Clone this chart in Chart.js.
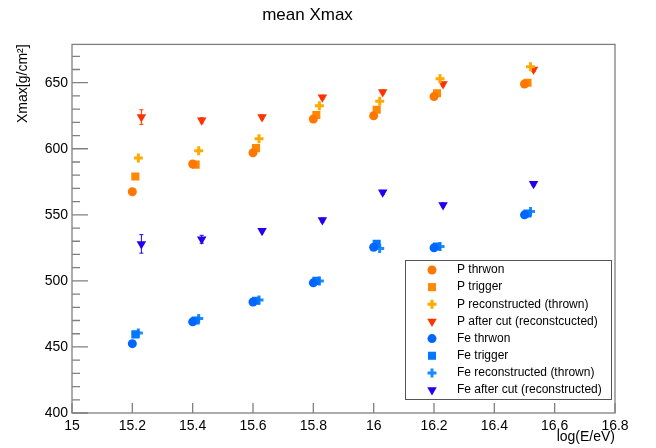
<!DOCTYPE html>
<html>
<head>
<meta charset="utf-8">
<script src="https://cdn.jsdelivr.net/npm/chart.js@4/dist/chart.umd.min.js"></script>
<style>
  html, body { margin: 0; background: #fff; }
  #wrap { width: 656px; height: 448px; }
</style>
</head>
<body>
<div id="wrap"><canvas id="xmaxChart"></canvas></div>
<script>
// energy bins (log E/eV), each series is drawn slightly shifted to the right
const logE = [15.2, 15.4, 15.6, 15.8, 16.0, 16.2, 16.5];
const shift = [0, 0.01, 0.02, 0.03];

// mean Xmax [g/cm2]
const pThrown  = [567.5, 588.5, 597, 622.5, 625, 639.5, 649];
const pTrigger = [579, 588, 600.5, 625.5, 629.5, 642, 650];
const pReco    = [593, 598.5, 607.5, 632.5, 636, 653, 662];
const pCut     = [624, 621.5, 624, 639, 643, 649, 660];
const pCutErr  = [5.5, 2, 1.5, 1.5, 1.5, 1.5, 1.5];

const feThrown  = [452.5, 469, 484, 498.5, 525.5, 525, 550];
const feTrigger = [459.5, 470, 485, 500, 528, 526, 551];
const feReco    = [460.5, 471.5, 485.5, 500, 524.5, 526, 552.5];
const feCut     = [528, 531.5, 538, 546, 567, 557.5, 573.5];
const feCutErr  = [7, 3, 1.5, 1.5, 1.5, 1.5, 1.5];

const yTicks = [400, 450, 500, 550, 600, 650];
const xTicks = [15, 15.2, 15.4, 15.6, 15.8, 16, 16.2, 16.4, 16.6, 16.8];

const FONT = "'Liberation Sans', Arial, Helvetica, sans-serif";

function pts(vals, k) {
    return vals.map((v, i) => ({ x: logE[i] + shift[k], y: v }));
}

function series(label, vals, k, color, style, extra) {
    return Object.assign({
        label: label,
        data: pts(vals, k),
        showLine: false,
        pointStyle: style,
        backgroundColor: color,
        borderColor: color,
        pointRadius: 4.5,
        pointHoverRadius: 4.5,
        pointBorderWidth: 0,
        pointRotation: 0
    }, extra || {});
}

const datasets = [
    series('P thrwon', pThrown, 0, '#ff7700', 'circle'),
    series('P trigger', pTrigger, 1, '#ff8800', 'rect', { pointRadius: 5.7 }),
    series('P reconstructed (thrown)', pReco, 2, '#ffaa00', 'cross', { pointBorderWidth: 3, pointRadius: 4.5 }),
    series('P after cut (reconstcucted)', pCut, 3, '#ff3300', 'triangle', { pointRotation: 180, pointRadius: 5.5, errors: pCutErr }),
    series('Fe thrwon', feThrown, 0, '#0066ff', 'circle'),
    series('Fe trigger', feTrigger, 1, '#0077ff', 'rect', { pointRadius: 5.7 }),
    series('Fe reconstructed (thrown)', feReco, 2, '#1a8cff', 'cross', { pointBorderWidth: 3, pointRadius: 4.5 }),
    series('Fe after cut (reconstructed)', feCut, 3, '#2200ee', 'triangle', { pointRotation: 180, pointRadius: 5.5, errors: feCutErr })
];

// ROOT-like frame with inward ticks
const framePlugin = {
    id: 'frame',
    afterDraw(chart) {
        const ctx = chart.ctx;
        const a = chart.chartArea;
        const xs = chart.scales.x, ys = chart.scales.y;
        ctx.save();
        ctx.strokeStyle = '#808080';
        ctx.lineWidth = 1.3;
        ctx.strokeRect(a.left, a.top, a.right - a.left, a.bottom - a.top);
        ctx.beginPath();
        for (let v = 400; v <= ys.max; v += 10) {
            const y = ys.getPixelForValue(v);
            const len = (v % 50 === 0) ? 16 : 8;
            ctx.moveTo(a.left, y);
            ctx.lineTo(a.left + len, y);
        }
        xTicks.forEach(v => {
            const x = xs.getPixelForValue(v);
            ctx.moveTo(x, a.bottom);
            ctx.lineTo(x, a.bottom - 10);
        });
        ctx.stroke();
        ctx.restore();
    }
};

// vertical error bars for the datasets that carry them
const errorPlugin = {
    id: 'errbars',
    beforeDatasetsDraw(chart) {
        const ctx = chart.ctx;
        const ys = chart.scales.y;
        chart.data.datasets.forEach((ds, di) => {
            if (!ds.errors) return;
            const meta = chart.getDatasetMeta(di);
            ctx.save();
            ctx.strokeStyle = ds.borderColor;
            ctx.lineWidth = 1;
            meta.data.forEach((el, i) => {
                const v = ds.data[i].y, e = ds.errors[i];
                const y1 = ys.getPixelForValue(v - e), y2 = ys.getPixelForValue(v + e);
                ctx.beginPath();
                ctx.moveTo(el.x, y1); ctx.lineTo(el.x, y2);
                ctx.moveTo(el.x - 2, y1); ctx.lineTo(el.x + 2, y1);
                ctx.moveTo(el.x - 2, y2); ctx.lineTo(el.x + 2, y2);
                ctx.stroke();
            });
            ctx.restore();
        });
    }
};

// legend box inside the plot, lower right
const boxLegend = {
    id: 'boxLegend',
    afterDraw(chart) {
        const ctx = chart.ctx;
        const left = 405, top = 260, w = 206, h = 139;
        ctx.save();
        ctx.fillStyle = '#fff';
        ctx.fillRect(left, top, w, h);
        ctx.strokeStyle = '#555';
        ctx.lineWidth = 1;
        ctx.strokeRect(left + 0.5, top + 0.5, w, h);
        ctx.font = '12px ' + FONT;
        ctx.textBaseline = 'middle';
        ctx.textAlign = 'left';
        chart.data.datasets.forEach((ds, i) => {
            const y = top + 10 + i * 17.15;
            ctx.fillStyle = ds.backgroundColor;
            ctx.strokeStyle = ds.borderColor;
            ctx.lineWidth = ds.pointBorderWidth;
            Chart.helpers.drawPoint(ctx, {
                pointStyle: ds.pointStyle,
                rotation: ds.pointRotation,
                radius: ds.pointRadius,
                borderWidth: ds.pointBorderWidth
            }, 432, y);
            ctx.fillStyle = '#000';
            ctx.fillText(ds.label, 457, y);
        });
        ctx.restore();
    }
};

new Chart(document.getElementById('xmaxChart'), {
    type: 'scatter',
    data: { datasets: datasets },
    options: {
        responsive: true,
        maintainAspectRatio: false,
        animation: false,
        layout: { padding: { left: 0, right: 41, top: 0, bottom: 0 } },
        plugins: {
            legend: { display: false },
            tooltip: { enabled: false },
            title: {
                display: true,
                text: 'mean Xmax',
                color: '#000',
                font: { family: FONT, size: 17, weight: 'normal' },
                padding: { top: 5, bottom: 19 }
            }
        },
        scales: {
            x: {
                type: 'linear',
                min: 15,
                max: 16.8,
                afterFit(s) { s.height = 35; },
                afterBuildTicks(s) { s.ticks = xTicks.map(v => ({ value: v })); },
                grid: { display: false, drawTicks: false },
                border: { display: false },
                ticks: {
                    color: '#000',
                    padding: 5,
                    maxRotation: 0,
                    font: { family: FONT, size: 14 },
                    callback: v => String(v)
                },
                title: {
                    display: true,
                    text: 'log(E/eV)',
                    align: 'end',
                    color: '#000',
                    font: { family: FONT, size: 14 },
                    padding: { top: 0, bottom: 2 }
                }
            },
            y: {
                min: 400,
                max: 679,
                afterFit(s) { s.width = 72; },
                afterBuildTicks(s) { s.ticks = yTicks.map(v => ({ value: v })); },
                grid: { display: false, drawTicks: false },
                border: { display: false },
                ticks: {
                    color: '#000',
                    padding: 4,
                    font: { family: FONT, size: 14 }
                },
                title: {
                    display: true,
                    text: 'Xmax[g/cm²]',
                    align: 'end',
                    color: '#000',
                    font: { family: FONT, size: 14 },
                    padding: { top: 15, bottom: 0 }
                }
            }
        }
    },
    plugins: [errorPlugin, framePlugin, boxLegend]
});
</script>
</body>
</html>
